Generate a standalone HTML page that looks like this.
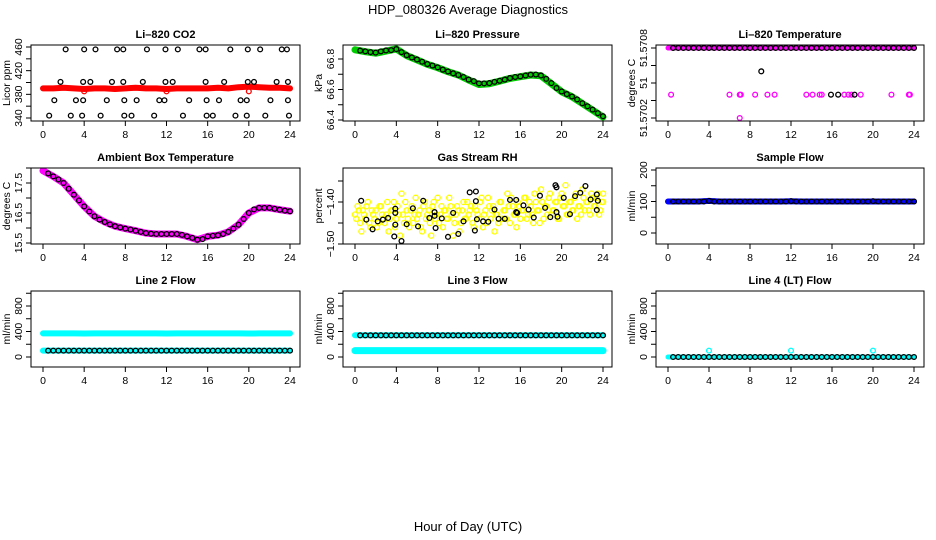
<!DOCTYPE html>
<html><head><meta charset="utf-8"><title>HDP_080326 Average Diagnostics</title>
<style>
html,body{margin:0;padding:0;background:#fff;}
svg{display:block;font-family:"Liberation Sans",Arial,sans-serif;}
.t{font-size:11px;font-weight:bold;text-anchor:middle;}
.tk{font-size:10.5px;text-anchor:middle;}
</style></head>
<body>
<svg id="chart" width="936" height="540" viewBox="0 0 936 540" xmlns="http://www.w3.org/2000/svg">
<rect x="0" y="0" width="936" height="540" fill="#fff"/>
<text x="468" y="14" font-size="13" text-anchor="middle">HDP_080326  Average Diagnostics</text>
<text x="468" y="531" font-size="13" text-anchor="middle">Hour of Day (UTC)</text>
</svg>
<script>
// ---- data ----
const xTicks = [0,4,8,12,16,20,24];
const bandHours = [0,1,2,3,4,5,6,7,8,9,10,11,12,13,14,15,16,17,18,19,20,21,22,23,24];
const blackHours = [0.5,1,1.5,2,2.5,3,3.5,4,4.5,5,5.5,6,6.5,7,7.5,8,8.5,9,9.5,10,10.5,11,11.5,12,12.5,13,13.5,14,14.5,15,15.5,16,16.5,17,17.5,18,18.5,19,19.5,20,20.5,21,21.5,22,22.5,23,23.5,24];

// CO2
const co2Red = [390,390,391,390,389,390,390,389,390,391,390,390,389,390,390,390,390,391,390,392,393,392,391,391,390];
const co2BlackHours = [2.2,4.0,5.1,7.2,7.8,10.1,11.9,13.1,15.2,15.8,18.2,19.9,21.1,23.2,23.7, 1.7,3.9,4.6,6.7,7.8,9.7,11.9,12.6,15.8,17.6,19.9,20.5,22.7,23.8, 1.1,3.2,3.9,6.2,7.9,9.1,11.3,11.8,14.2,15.9,17.1,19.2,19.8,22.1,23.8, 0.6,2.7,3.8,5.6,7.9,8.6,10.8,13.6,15.9,16.5,18.7,19.8,21.6,23.9];
const co2BlackValues = [456,456,456,456,456,456,456,456,456,456,456,456,456,456,456, 401,401,401,401,401,401,401,401,401,401,401,401,401,401, 370,370,370,370,370,370,370,370,370,370,370,370,370,370,370, 344,344,344,344,344,344,344,344,344,344,344,344,344,344];
const co2RedDipHours = [4,12,20];
const co2RedDipValues = [385,385,385];

// Pressure
const pressGreen = [66.86,66.848,66.838,66.852,66.866,66.822,66.794,66.765,66.743,66.717,66.695,66.662,66.633,66.638,66.655,66.673,66.684,66.695,66.69,66.638,66.585,66.552,66.508,66.464,66.42];
const pressBlack = [66.855,66.85,66.845,66.842,66.85,66.856,66.858,66.865,66.845,66.825,66.81,66.797,66.782,66.767,66.757,66.745,66.73,66.718,66.706,66.695,66.682,66.665,66.655,66.64,66.64,66.642,66.65,66.657,66.665,66.675,66.682,66.686,66.692,66.697,66.698,66.692,66.67,66.642,66.61,66.587,66.57,66.554,66.535,66.51,66.49,66.468,66.445,66.425];

// Li-820 temperature
const tempTopMagenta = [51.5708,51.5708];
const tempTopHours = [0,24];
const tempBlackTop = [51.5708,51.5708,51.5708,51.5708,51.5708,51.5708,51.5708,51.5708,51.5708,51.5708,51.5708,51.5708,51.5708,51.5708,51.5708,51.5708,51.5708,51.5708,51.5708,51.5708,51.5708,51.5708,51.5708,51.5708,51.5708,51.5708,51.5708,51.5708,51.5708,51.5708,51.5708,51.5708,51.5708,51.5708,51.5708,51.5708,51.5708,51.5708,51.5708,51.5708,51.5708,51.5708,51.5708,51.5708,51.5708,51.5708,51.5708,51.5708];
const tempMagHours = [0.3,6.0,7.0,7.1,8.5,9.7,10.4,13.5,14.1,14.8,15.0,17.2,17.6,17.9,18.8,21.8,23.5,23.6,7.0];
const tempMagValues = [51.5704,51.5704,51.5704,51.5704,51.5704,51.5704,51.5704,51.5704,51.5704,51.5704,51.5704,51.5704,51.5704,51.5704,51.5704,51.5704,51.5704,51.5704,51.5702];
const tempExtraBlackHours = [15.9,16.6,18.2,9.1];
const tempExtraBlackValues = [51.5704,51.5704,51.5704,51.5706];

// Ambient box temperature
const ambMagenta = [17.91,17.72,17.5,17.11,16.72,16.39,16.2,16.06,15.98,15.91,15.83,15.8,15.8,15.8,15.72,15.61,15.72,15.76,15.87,16.11,16.5,16.67,16.67,16.61,16.56];
const ambBlack = [17.82,17.72,17.62,17.5,17.31,17.11,16.92,16.72,16.55,16.39,16.28,16.2,16.12,16.06,16.02,15.98,15.95,15.91,15.87,15.83,15.81,15.8,15.8,15.8,15.8,15.8,15.77,15.72,15.67,15.61,15.63,15.72,15.74,15.76,15.8,15.87,15.98,16.11,16.3,16.5,16.62,16.67,16.67,16.67,16.64,16.61,16.58,16.56];

// Gas stream RH
const rhYellowA = [-1.43,-1.41,-1.45,-1.42,-1.44,-1.40,-1.46,-1.43,-1.42,-1.45,-1.41,-1.44,-1.43,-1.47,-1.42,-1.40,-1.44,-1.43,-1.38,-1.45,-1.42,-1.46,-1.41,-1.43,-1.44,-1.42,-1.47,-1.40,-1.43,-1.45,-1.41,-1.44,-1.39,-1.43,-1.46,-1.42,-1.44,-1.41,-1.48,-1.43,-1.42,-1.45,-1.40,-1.44,-1.43,-1.41,-1.46,-1.42,-1.44,-1.39,-1.43,-1.45,-1.41,-1.42,-1.47,-1.43,-1.40,-1.44,-1.42,-1.38,-1.45,-1.41,-1.43,-1.40,-1.44,-1.42,-1.39,-1.43,-1.41,-1.45,-1.40,-1.42,-1.37,-1.44,-1.41,-1.39,-1.43,-1.42,-1.40,-1.44,-1.38,-1.41,-1.43,-1.40,-1.42,-1.39,-1.44,-1.41,-1.37,-1.42,-1.40,-1.43,-1.39,-1.41,-1.38,-1.42,-1.40];
const rhYellowB = [-1.44,-1.42,-1.47,-1.43,-1.41,-1.45,-1.42,-1.44,-1.46,-1.41,-1.43,-1.45,-1.40,-1.44,-1.42,-1.46,-1.41,-1.48,-1.43,-1.40,-1.44,-1.42,-1.45,-1.39,-1.43,-1.46,-1.41,-1.44,-1.42,-1.48,-1.40,-1.43,-1.45,-1.41,-1.42,-1.44,-1.39,-1.43,-1.45,-1.41,-1.47,-1.42,-1.44,-1.40,-1.42,-1.45,-1.41,-1.43,-1.40,-1.46,-1.42,-1.39,-1.44,-1.41,-1.43,-1.45,-1.40,-1.42,-1.44,-1.41,-1.39,-1.43,-1.46,-1.41,-1.42,-1.39,-1.44,-1.40,-1.43,-1.38,-1.42,-1.45,-1.40,-1.41,-1.43,-1.38,-1.42,-1.40,-1.44,-1.39,-1.41,-1.36,-1.43,-1.40,-1.42,-1.38,-1.41,-1.43,-1.39,-1.40,-1.42,-1.38,-1.41,-1.39,-1.43,-1.40,-1.38];
const rhBlackHours = [0.6,1.1,1.7,2.2,2.7,3.2,3.8,3.9,3.9,3.9,4.5,5.0,5.6,6.1,6.6,7.2,7.7,7.7,7.8,8.4,9.0,9.5,10.0,10.5,11.1,11.6,11.7,11.7,11.8,12.4,12.9,13.5,13.9,14.5,15.0,15.6,15.6,15.7,16.3,16.8,17.3,17.9,18.4,18.9,19.4,19.5,19.5,19.6,20.2,20.8,21.3,21.8,22.3,22.8,23.4,23.4,23.5];
const rhBlackValues = [-1.397,-1.442,-1.465,-1.446,-1.442,-1.438,-1.482,-1.416,-1.426,-1.454,-1.493,-1.453,-1.415,-1.458,-1.397,-1.438,-1.424,-1.433,-1.462,-1.439,-1.483,-1.426,-1.476,-1.446,-1.377,-1.468,-1.398,-1.375,-1.441,-1.446,-1.447,-1.418,-1.44,-1.44,-1.395,-1.395,-1.424,-1.426,-1.408,-1.418,-1.437,-1.385,-1.414,-1.436,-1.36,-1.365,-1.424,-1.435,-1.39,-1.429,-1.386,-1.378,-1.362,-1.394,-1.382,-1.419,-1.397];

// Flows
const sampleBlue = [100,100,100,100,102,100,100,100,100,100,100,100,101,100,100,100,100,100,100,100,100,100,100,100,100];
const sampleBlack = [100,100,100,100,100,100,100,102,100,100,100,100,100,100,100,100,100,100,100,100,100,100,100,101,100,100,100,100,100,100,100,100,100,100,100,100,100,100,100,101,100,100,100,100,100,100,100,100];
const line2CyanHigh = [370,370,370,370,368,370,370,370,370,370,370,370,368,370,370,370,370,370,370,370,368,370,370,370,370];
const line2CyanLow = [100,100,100,100,100,100,100,100,100,100,100,100,100,100,100,100,100,100,100,100,100,100,100,100,100];
const line2Black = [100,100,100,100,100,100,100,100,100,100,100,100,100,100,100,100,100,100,100,100,100,100,100,100,100,100,100,100,100,100,100,100,100,100,100,100,100,100,100,100,100,100,100,100,100,100,100,100];
const line3CyanHigh = [340,340,340,340,340,340,340,340,340,340,340,340,340,340,340,340,340,340,340,340,340,340,340,340,340];
const line3CyanLow = [100,100,100,100,100,100,100,100,100,100,100,100,100,100,100,100,100,100,100,100,100,100,100,100,100];
const line3Black = [340,340,340,340,340,340,340,340,340,340,340,340,340,340,340,340,340,340,340,340,340,340,340,340,340,340,340,340,340,340,340,340,340,340,340,340,340,340,340,340,340,340,340,340,340,340,340,340];
const line4Cyan = [0,0,0,0,0,0,0,0,0,0,0,0,0,0,0,0,0,0,0,0,0,0,0,0,0];
const line4Black = [0,0,0,0,0,0,0,0,0,0,0,0,0,0,0,0,0,0,0,0,0,0,0,0,0,0,0,0,0,0,0,0,0,0,0,0,0,0,0,0,0,0,0,0,0,0,0,0];
const line4SpikeHours = [4,12,20];
const line4SpikeValues = [100,100,100];

// ---- drawing ----
const NS = 'http://www.w3.org/2000/svg';
const svg = document.getElementById('chart');
function mk(tag, attrs, parent){
  const e = document.createElementNS(NS, tag);
  for (const k in attrs) e.setAttribute(k, attrs[k]);
  (parent||svg).appendChild(e);
  return e;
}
const cols = [{x0:31,x1:300,a:43,b:290},{x0:343,x1:612,a:355,b:603},{x0:656,x1:924,a:668,b:914}];
const rows = [{y0:45,y1:121},{y0:168,y1:244},{y0:291,y1:367}];

function makePanel(c, r, name, title, ylab, yAnchor, yTicks, yLabels){
  const C = cols[c], R = rows[r];
  const g = mk('g', {});
  
  
  const xs = h => C.a + (h/24)*(C.b-C.a);
  const ys = v => yAnchor[1] + (v-yAnchor[0])*(yAnchor[3]-yAnchor[1])/(yAnchor[2]-yAnchor[0]);
  const t = mk('text', {x:(C.x0+C.x1)/2, y:R.y0-7, class:'t'}, g);
  t.textContent = title;
  
  
  const xa = mk('g', {}, g);
  
  
  mk('line', {x1:xs(xTicks[0]), x2:xs(xTicks[xTicks.length-1]), y1:R.y1, y2:R.y1, stroke:'#000'}, xa);
  xTicks.forEach(v=>{
    mk('line', {x1:xs(v), x2:xs(v), y1:R.y1, y2:R.y1+5, stroke:'#000'}, xa);
    const tl = mk('text', {x:xs(v), y:R.y1+17, class:'tk'}, xa);
    tl.textContent = v;
  });
  const ya = mk('g', {}, g);
  
  
  mk('line', {x1:C.x0, x2:C.x0, y1:ys(yTicks[0]), y2:ys(yTicks[yTicks.length-1]), stroke:'#000'}, ya);
  yTicks.forEach((v,i)=>{
    mk('line', {x1:C.x0-5, x2:C.x0, y1:ys(v), y2:ys(v), stroke:'#000'}, ya);
    if (yLabels[i] !== '') {
      const yl = mk('text', {x:0, y:0, class:'tk', transform:`translate(${C.x0-9},${ys(v)}) rotate(-90)`}, ya);
      yl.textContent = yLabels[i];
    }
  });
  const yt = mk('text', {x:0, y:0, class:'tk', transform:`translate(${C.x0-21},${(R.y0+R.y1)/2}) rotate(-90)`}, g);
  yt.textContent = ylab;
  
  
  const clipId = 'clip-'+name;
  const cp = mk('clipPath', {id:clipId}, g);
  mk('rect', {x:C.x0, y:R.y0, width:C.x1-C.x0, height:R.y1-R.y0}, cp);
  const plot = mk('g', {'clip-path':`url(#${clipId})`}, g);
  const box = mk('rect', {x:C.x0, y:R.y0, width:C.x1-C.x0, height:R.y1-R.y0, fill:'none', stroke:'#000'}, g);
  
  
  return {xs, ys, plot};
}
function band(p, hours, vals, color, w, nm){
  const pts = hours.map((h,i)=>p.xs(h).toFixed(1)+','+p.ys(vals[i]).toFixed(1)).join(' ');
  const pl = mk('polyline', {points:pts, fill:'none', stroke:color, 'stroke-width':w, 'stroke-linecap':'round', 'stroke-linejoin':'round'}, p.plot);
  
  
}
function pts(p, hours, vals, color, nm, r){
  const g = mk('g', {}, p.plot);
  
  
  hours.forEach((h,i)=>{
    mk('circle', {cx:p.xs(h), cy:p.ys(vals[i]), r:r||2.4, fill:'none', stroke:color, 'stroke-width':1.3}, g);
  });
}
function idxHours(arr){ return arr.map((_,i)=>i*24/(arr.length-1)); }

// Panel 1: CO2
let p = makePanel(0,0,'co2-panel','Li\u2013820 CO2','Licor ppm',[340,118,460,47],[340,360,380,400,420,440,460],['340','','380','','420','','460']);
band(p, bandHours, co2Red, '#ff0000', 6, 'co2-red-series');
pts(p, co2RedDipHours, co2RedDipValues, '#ff0000', 'co2-red-points');
pts(p, co2BlackHours, co2BlackValues, '#000', 'co2-black-points');

// Panel 2: Pressure
p = makePanel(1,0,'pressure-panel','Li\u2013820 Pressure','kPa',[66.4,120,66.8,59],[66.4,66.5,66.6,66.7,66.8],['66.4','','66.6','','66.8']);
band(p, bandHours, pressGreen, '#00cc00', 7, 'pressure-green-series');
pts(p, blackHours, pressBlack, '#000', 'pressure-black-points');

// Panel 3: Li-820 temperature
p = makePanel(2,0,'li820-temp-panel','Li\u2013820 Temperature','degrees C',[51.5702,118,51.5708,48],[51.5702,51.57035,51.5705,51.57065,51.5708],['51.5702','','51','','51.5708']);
band(p, tempTopHours, tempTopMagenta, '#ff00ff', 5, 'li820-temp-magenta-series');
pts(p, tempMagHours, tempMagValues, '#ff00ff', 'li820-temp-magenta-points');
pts(p, blackHours, tempBlackTop, '#000', 'li820-temp-black-points');
pts(p, tempExtraBlackHours, tempExtraBlackValues, '#000', 'li820-temp-black-outliers');

// Panel 4: Ambient
p = makePanel(0,1,'ambient-temp-panel','Ambient Box Temperature','degrees C',[15.5,243,17.5,183],[15.5,16,16.5,17,17.5,18],['15.5','','16.5','','17.5','']);
band(p, bandHours, ambMagenta, '#ff00ff', 7, 'ambient-magenta-series');
pts(p, blackHours, ambBlack, '#000', 'ambient-black-points');

// Panel 5: RH
p = makePanel(1,1,'gas-rh-panel','Gas Stream RH','percent',[-1.50,244,-1.40,202],[-1.50,-1.45,-1.40,-1.35],['\u22121.50','','\u22121.40','']);
pts(p, idxHours(rhYellowA), rhYellowA, '#ffff00', 'rh-yellow-points-a', 2.6);
pts(p, idxHours(rhYellowB).map(h=>Math.min(24,h+0.12)), rhYellowB, '#ffff00', 'rh-yellow-points-b', 2.6);
pts(p, rhBlackHours, rhBlackValues, '#000', 'rh-black-points');

// Panel 6: Sample flow
p = makePanel(2,1,'sample-flow-panel','Sample Flow','ml/min',[0,233,200,170],[0,50,100,150,200],['0','','100','','200']);
band(p, bandHours, sampleBlue, '#0000ff', 6, 'sample-flow-blue-series');
pts(p, blackHours, sampleBlack, '#000', 'sample-flow-black-points');

// Panel 7-9: Line flows
const flowTicks = [0,200,400,600,800,1000];
const flowLabels = ['0','','400','','800',''];
p = makePanel(0,2,'line2-flow-panel','Line 2 Flow','ml/min',[0,357,800,306],flowTicks,flowLabels);
band(p, bandHours, line2CyanHigh, '#00ffff', 6, 'line2-cyan-high-series');
band(p, bandHours, line2CyanLow, '#00ffff', 6, 'line2-cyan-low-series');
pts(p, blackHours, line2Black, '#000', 'line2-black-points');

p = makePanel(1,2,'line3-flow-panel','Line 3 Flow','ml/min',[0,357,800,306],flowTicks,flowLabels);
band(p, bandHours, line3CyanHigh, '#00ffff', 6, 'line3-cyan-high-series');
band(p, bandHours, line3CyanLow, '#00ffff', 7, 'line3-cyan-low-series');
pts(p, blackHours, line3Black, '#000', 'line3-black-points');

p = makePanel(2,2,'line4-flow-panel','Line 4 (LT) Flow','ml/min',[0,357,800,306],flowTicks,flowLabels);
band(p, bandHours, line4Cyan, '#00ffff', 5, 'line4-cyan-series');
pts(p, blackHours, line4Black, '#000', 'line4-black-points');
pts(p, line4SpikeHours, line4SpikeValues, '#00ffff', 'line4-cyan-spikes');
</script>
</body></html>
